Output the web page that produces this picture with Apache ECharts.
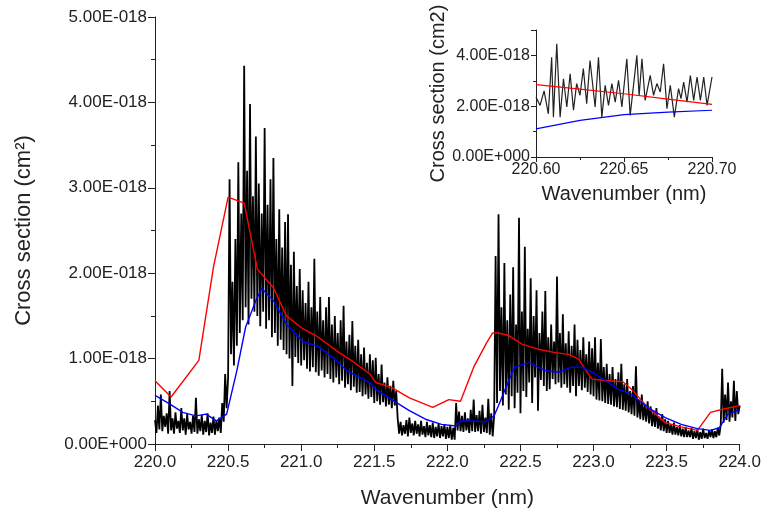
<!DOCTYPE html>
<html lang="en">
<head>
<meta charset="UTF-8">
<title>Cross section</title>
<style>
  html, body { margin: 0; padding: 0; background: #fff; }
  #chart { width: 764px; height: 514px; }
</style>
<script src="https://cdn.jsdelivr.net/npm/echarts@6/dist/echarts.min.js"></script>
</head>
<body>
<div id="chart"></div>
<script>
// main spectrum, one value every 0.01 nm from 220.00 to 224.00 (units of 1E-18 cm2)
var specStart = 220.00;
var specStep = 0.01;
var spectrum = [
  0.28,0.13,0.45,0.17,0.58,0.15,0.33,0.20,0.36,0.12, // 220.0
  0.62,0.16,0.30,0.12,0.37,0.18,0.27,0.13,0.42,0.16,
  0.30,0.11,0.35,0.17,0.26,0.12,0.33,0.14,0.54,0.12,
  0.29,0.15,0.34,0.11,0.27,0.14,0.36,0.10,0.25,0.13,
  0.32,0.11,0.28,0.15,0.31,0.13,0.48,0.26,0.82,0.42,
  0.78,3.10,1.05,1.90,0.92,2.40,1.15,3.30,1.30,2.70, // 220.5
  1.45,4.43,1.60,3.20,1.40,3.98,1.70,2.90,1.55,3.60,
  1.50,3.05,1.38,2.70,1.55,3.70,1.35,2.80,1.45,3.10,
  1.25,3.35,1.30,2.40,1.15,2.75,1.22,2.30,1.10,2.60,
  1.05,2.69,1.00,2.10,0.68,2.25,1.02,1.85,0.95,2.05,
  0.92,1.80,0.98,1.65,0.88,1.90,0.85,1.60,0.90,2.17, // 221.0
  0.84,1.55,0.80,1.72,0.86,1.45,0.78,1.60,0.82,1.72,
  0.76,1.40,0.72,1.50,0.78,1.30,0.70,1.45,0.74,1.62,
  0.66,1.20,0.70,1.28,0.63,1.44,0.67,1.15,0.60,1.22,
  0.61,1.05,0.56,1.13,0.58,0.95,0.53,1.05,0.55,0.98,
  0.48,1.01,0.50,0.82,0.46,0.93,0.49,0.72,0.44,0.78, // 221.5
  0.46,0.68,0.42,0.74,0.45,0.62,0.30,0.12,0.26,0.10,
  0.22,0.12,0.28,0.09,0.31,0.13,0.24,0.10,0.27,0.12,
  0.23,0.09,0.27,0.11,0.21,0.08,0.26,0.10,0.22,0.08,
  0.25,0.07,0.20,0.09,0.24,0.07,0.21,0.09,0.23,0.06,
  0.20,0.07,0.22,0.05,0.19,0.05,0.48,0.16,0.38,0.15, // 222.0
  0.33,0.14,0.37,0.16,0.30,0.13,0.40,0.15,0.52,0.14,
  0.34,0.15,0.39,0.12,0.46,0.14,0.31,0.13,0.53,0.11,
  0.36,0.09,0.33,2.20,0.48,2.69,0.62,1.60,0.45,2.12,
  0.58,1.45,0.40,1.75,0.56,2.07,0.42,1.40,0.60,2.65,
  0.36,1.55,0.62,2.31,0.55,1.35,0.72,1.94,0.48,1.50, // 222.5
  0.78,1.80,0.39,1.30,0.75,1.55,0.68,1.79,0.62,1.25,
  0.64,1.40,0.76,1.20,0.70,1.96,0.72,1.30,0.66,1.52,
  0.70,1.18,0.66,1.32,0.60,1.15,0.68,1.40,0.56,1.22,
  0.68,1.10,0.63,1.25,0.66,1.05,0.61,1.20,0.58,1.12,
  0.56,1.25,0.52,0.95,0.51,1.23,0.50,0.90,0.48,0.94, // 223.0
  0.47,0.82,0.46,0.90,0.44,0.76,0.43,0.84,0.41,0.94,
  0.40,0.70,0.39,0.76,0.37,0.62,0.35,0.68,0.33,0.91,
  0.31,0.52,0.29,0.58,0.28,0.46,0.26,0.50,0.24,0.44,
  0.21,0.38,0.20,0.42,0.18,0.32,0.16,0.35,0.15,0.29,
  0.13,0.27,0.13,0.23,0.11,0.25,0.11,0.20,0.10,0.22, // 223.5
  0.09,0.18,0.08,0.20,0.08,0.16,0.08,0.19,0.06,0.15,
  0.07,0.17,0.05,0.14,0.06,0.18,0.07,0.13,0.06,0.16,
  0.08,0.17,0.07,0.15,0.08,0.19,0.10,0.22,0.88,0.25,
  0.58,0.28,0.72,0.26,0.50,0.31,0.74,0.27,0.62,0.35,
  0.45                                                // 224.0
];

// smoothed curves [wavenumber, value]
var redCurve = [
  [220.00,0.74],[220.11,0.55],[220.30,0.98],[220.40,2.07],[220.50,2.89],[220.61,2.82],
  [220.70,2.05],[220.81,1.83],[220.90,1.50],[221.01,1.35],[221.10,1.27],[221.26,1.07],
  [221.35,0.97],[221.47,0.82],[221.51,0.72],[221.62,0.66],[221.74,0.54],[221.90,0.43],
  [222.01,0.52],[222.09,0.50],[222.18,0.90],[222.27,1.19],[222.31,1.30],[222.35,1.30],
  [222.42,1.27],[222.51,1.17],[222.62,1.11],[222.74,1.07],[222.83,1.05],[222.90,0.99],
  [222.94,0.88],[222.99,0.76],[223.10,0.74],[223.20,0.73],[223.26,0.64],[223.37,0.43],
  [223.49,0.25],[223.60,0.20],[223.71,0.16],[223.80,0.37],[223.89,0.41],[224.00,0.45]
];
var blueCurve = [
  [220.00,0.57],[220.10,0.47],[220.19,0.37],[220.28,0.33],[220.35,0.35],[220.42,0.27],
  [220.49,0.35],[220.56,0.86],[220.62,1.37],[220.69,1.68],[220.73,1.82],[220.81,1.68],
  [220.90,1.40],[221.01,1.20],[221.12,1.14],[221.26,0.95],[221.31,0.86],[221.40,0.78],
  [221.47,0.72],[221.51,0.64],[221.62,0.52],[221.74,0.39],[221.85,0.29],[221.96,0.23],
  [222.06,0.21],[222.09,0.27],[222.17,0.27],[222.26,0.26],[222.32,0.33],[222.35,0.45],
  [222.40,0.66],[222.46,0.90],[222.56,0.95],[222.67,0.86],[222.76,0.84],[222.85,0.90],
  [222.92,0.90],[223.01,0.82],[223.10,0.72],[223.17,0.64],[223.26,0.58],[223.37,0.43],
  [223.49,0.31],[223.60,0.23],[223.71,0.18],[223.80,0.16],[223.86,0.19],[223.92,0.35],
  [224.00,0.40]
];

// inset: zoom 220.60 - 220.70 nm
var insetSpectrum = [
  [220.6000,2.36],[220.6023,2.03],[220.6046,2.60],[220.6070,1.70],[220.6089,3.93],[220.6099,1.57],
  [220.6118,4.46],[220.6137,1.57],[220.6156,3.08],[220.6175,1.97],[220.6194,3.28],[220.6213,1.84],
  [220.6231,2.89],[220.6250,2.43],[220.6269,3.48],[220.6288,2.10],[220.6307,3.80],[220.6336,1.97],
  [220.6355,3.93],[220.6374,1.57],[220.6393,2.82],[220.6412,2.03],[220.6431,2.89],[220.6450,2.16],
  [220.6469,3.02],[220.6488,1.97],[220.6516,3.87],[220.6535,1.64],[220.6573,4.00],[220.6586,2.40],
  [220.6602,3.87],[220.6620,2.23],[220.6649,3.21],[220.6668,2.43],[220.6687,2.89],[220.6706,2.56],
  [220.6725,3.67],[220.6744,1.90],[220.6763,2.82],[220.6786,1.57],[220.6810,2.69],[220.6824,2.30],
  [220.6839,2.95],[220.6858,2.16],[220.6877,3.21],[220.6896,2.23],[220.6915,3.15],[220.6934,2.23],
  [220.6953,3.15],[220.6972,2.03],[220.7000,3.15]
];
var insetRed = [[220.600,2.85],[220.625,2.67],[220.650,2.49],[220.675,2.28],[220.700,2.07]];
var insetBlue = [[220.600,1.11],[220.625,1.44],[220.650,1.67],[220.675,1.77],[220.700,1.84]];

var mainX = [220.0, 224.0];
var mainY = [0, 5];
var insetX = [220.60, 220.70];
var insetY = [0, 5];

var spectrumData = spectrum.map(function (v, i) {
  return [+(specStart + i * specStep).toFixed(2), v];
});

var font = 'Liberation Sans, Arial, sans-serif';
var ink = '#222';

function yLabel(v) {
  return v === 0 ? '0.00E+000' : v.toFixed(2) + 'E-018';
}

function axisBase(opts) {
  return Object.assign({
    type: 'value',
    axisLine: { show: true, onZero: false, lineStyle: { color: ink, width: 1 } },
    axisTick: { show: true, length: 7, lineStyle: { color: ink } },
    minorTick: { show: true, splitNumber: 2, length: 4, lineStyle: { color: ink } },
    splitLine: { show: false },
    nameLocation: 'middle'
  }, opts);
}

var chart = echarts.init(document.getElementById('chart'), null, { renderer: 'canvas' });

chart.setOption({
  animation: false,
  backgroundColor: '#fff',
  grid: [
    { left: 155, right: 22, top: 17, bottom: 70 },
    { left: 536, right: 52, top: 30, bottom: 357 }
  ],
  xAxis: [
    axisBase({
      gridIndex: 0, min: mainX[0], max: mainX[1], interval: 0.5,
      axisLabel: { fontSize: 17, color: ink, fontFamily: font, margin: 10,
        formatter: function (v) { return v.toFixed(1); } },
      name: 'Wavenumber (nm)', nameGap: 44,
      nameTextStyle: { fontSize: 21, color: ink, fontFamily: font }
    }),
    axisBase({
      gridIndex: 1, min: insetX[0], max: insetX[1], interval: 0.05,
      axisTick: { show: true, length: 5, lineStyle: { color: ink } },
      minorTick: { show: true, splitNumber: 2, length: 3, lineStyle: { color: ink } },
      axisLabel: { fontSize: 16, color: ink, fontFamily: font, margin: 5,
        formatter: function (v) { return v.toFixed(2); } },
      name: 'Wavenumber (nm)', nameGap: 27,
      nameTextStyle: { fontSize: 20, color: ink, fontFamily: font }
    })
  ],
  yAxis: [
    axisBase({
      gridIndex: 0, min: mainY[0], max: mainY[1], interval: 1,
      axisLabel: { fontSize: 17, color: ink, fontFamily: font, margin: 8, formatter: yLabel },
      name: 'Cross section (cm²)', nameGap: 120,
      nameTextStyle: { fontSize: 22, color: ink, fontFamily: font }
    }),
    axisBase({
      gridIndex: 1, min: insetY[0], max: insetY[1], interval: 2,
      axisTick: { show: true, length: 5, lineStyle: { color: ink } },
      minorTick: { show: true, splitNumber: 2, length: 3, lineStyle: { color: ink } },
      axisLabel: { fontSize: 16, color: ink, fontFamily: font, margin: 6, formatter: yLabel,
        showMaxLabel: false },
      name: 'Cross section (cm2)', nameGap: 84,
      nameTextStyle: { fontSize: 20, color: ink, fontFamily: font }
    })
  ],
  series: [
    { type: 'line', xAxisIndex: 0, yAxisIndex: 0, data: spectrumData, symbol: 'none',
      lineStyle: { color: '#000', width: 1.8 }, z: 2, silent: true },
    { type: 'line', xAxisIndex: 0, yAxisIndex: 0, data: redCurve, symbol: 'none',
      lineStyle: { color: '#ff0000', width: 1.4 }, z: 3, silent: true },
    { type: 'line', xAxisIndex: 0, yAxisIndex: 0, data: blueCurve, symbol: 'none',
      lineStyle: { color: '#0000ff', width: 1.4 }, z: 3, silent: true },
    { type: 'line', xAxisIndex: 1, yAxisIndex: 1, data: insetSpectrum, symbol: 'none',
      lineStyle: { color: '#222', width: 1.2 }, z: 2, silent: true },
    { type: 'line', xAxisIndex: 1, yAxisIndex: 1, data: insetRed, symbol: 'none',
      lineStyle: { color: '#ff0000', width: 1.2 }, z: 3, silent: true },
    { type: 'line', xAxisIndex: 1, yAxisIndex: 1, data: insetBlue, symbol: 'none',
      lineStyle: { color: '#0000ff', width: 1.2 }, z: 3, silent: true }
  ]
});
</script>
</body>
</html>
